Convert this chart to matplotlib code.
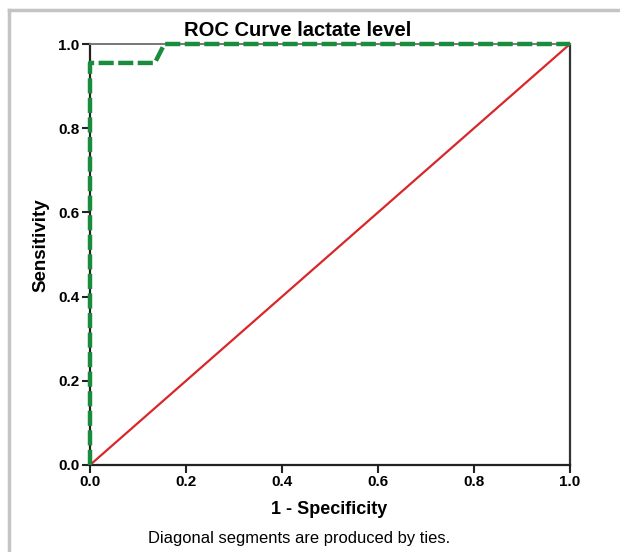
import numpy as np
import matplotlib.pyplot as plt
from matplotlib.lines import Line2D

plt.rcParams['font.family'] = ['Liberation Sans', 'DejaVu Sans']

# ROC curve points
fpr = [0.0, 0.0, 0.135, 0.155, 1.0]
tpr = [0.0, 0.955, 0.955, 1.0, 1.0]
diag = [0.0, 1.0]
ticks = [0.0, 0.2, 0.4, 0.6, 0.8, 1.0]
tick_labels = ['0.0', '0.2', '0.4', '0.6', '0.8', '1.0']

fig = plt.figure(figsize=(6.2, 5.52), dpi=100)
ax = fig.add_axes([90/620, 1 - 465/552, 480/620, 421/552])

ax.plot(diag, diag, color='#d9262a', lw=1.6, zorder=2)
ax.plot(fpr, tpr, color='#1a8c3e', lw=3.2, ls=(0, (3.4, 1.0)), zorder=3,
        clip_on=False, dash_capstyle='butt')

ax.set_xlim(0, 1)
ax.set_ylim(0, 1)
ax.set_xticks(ticks)
ax.set_yticks(ticks)
ax.set_xticklabels(tick_labels, fontweight='bold', fontsize=11)
ax.set_yticklabels(tick_labels, fontweight='bold', fontsize=11)
ax.tick_params(direction='out', length=6, width=1.5, color='#222222', pad=1.5)

for s in ['left', 'bottom']:
    ax.spines[s].set_linewidth(1.6)
    ax.spines[s].set_color('#222222')
ax.spines['right'].set_linewidth(1.6)
ax.spines['right'].set_color('#333333')
ax.spines['top'].set_linewidth(1.4)
ax.spines['top'].set_color('#777777')

fig.text(329/620, 1 - 509/552, '1 - Specificity', ha='center', va='center',
         fontweight='bold', fontsize=13)
fig.text(41/620, 1 - 245/552, 'Sensitivity', ha='center', va='center',
         rotation=90, fontweight='bold', fontsize=13.5)
fig.text(298/620, 1 - 31/552, 'ROC Curve lactate level', ha='center', va='center',
         fontweight='bold', fontsize=14.5)
fig.text(299/620, 1 - 539/552, 'Diagonal segments are produced by ties.',
         ha='center', va='center', fontsize=11.9)

# gray outer frame (top and left only)
fig.add_artist(Line2D([8.5/620, 8.5/620], [0, 1 - 10/552], color='#c4c4c4', lw=2.5,
                      transform=fig.transFigure))
fig.add_artist(Line2D([8.5/620, 1], [1 - 10/552, 1 - 10/552], color='#c4c4c4', lw=2.5,
                      transform=fig.transFigure))

fig.savefig('out.png', dpi=100)
